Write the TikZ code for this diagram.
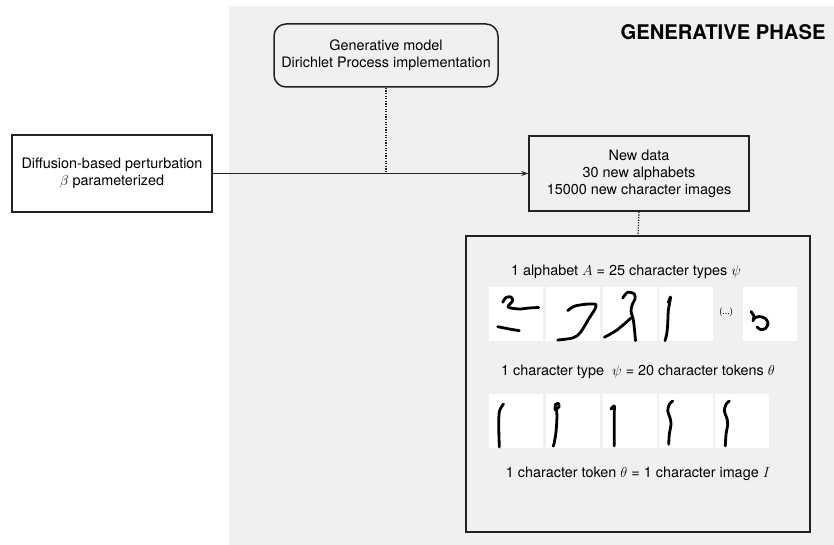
\documentclass[tikz,border=0pt]{standalone}
\usepackage{fontspec}
\setmainfont{TeX Gyre Heros}
\usetikzlibrary{arrows.meta}
\definecolor{phasegrey}{HTML}{F0F0F0}
\definecolor{linegrey}{HTML}{222222}
\begin{document}
\begin{tikzpicture}[x=1pt,y=-1pt,
  box/.style={draw=linegrey,line width=1.5pt,align=center,inner sep=0pt,font=\fontsize{14.4}{17}\selectfont},
  label/.style={align=center,inner sep=0pt,font=\fontsize{14.4}{17}\selectfont},
  ink/.style={line width=2.8pt,line cap=round,line join=round},
  link/.style={line width=1.3pt,draw=linegrey}]
\useasboundingbox (0,0) rectangle (834,545);
\fill[phasegrey] (229,6) rectangle (834,545);
\node[font=\fontsize{20.2}{22}\selectfont\bfseries,anchor=east] (phase) at (829,32) {GENERATIVE PHASE};

\node[box,rounded corners=12pt,minimum width=224pt,minimum height=63pt] (gen) at (386,55.5) {Generative model\\Dirichlet Process implementation};
\node[box,fill=white,minimum width=200pt,minimum height=77pt] (diff) at (112,173.5) {Diffusion-based perturbation\\$\beta$ parameterized};
\node[box,minimum width=220pt,minimum height=75pt] (new) at (639,173.5) {New data\\30 new alphabets\\15000 new character images};
\node[box,minimum width=344pt,minimum height=296pt] (set) at (638,384) {};
\coordinate (join) at (gen.south |- diff.east);

\draw[link,-{Stealth[length=7pt,width=5pt]}] (diff.east) -- (new.west);
\draw[link,dash pattern=on 1.3pt off 1.3pt] (gen.south) -- (join);
\draw[link,dash pattern=on 1.3pt off 1.3pt] (new.south) -- (set.north);

\node[label] (types) at (626,272) {1 alphabet $A$ = 25 character types $\psi$};
\node[label] (tokens) at (638,372) {1 character type \ $\psi$ = 20 character tokens $\theta$};
\node[label] (image) at (638,474) {1 character token $\theta$ = 1 character image $I$};
\node[font=\rmfamily\fontsize{9}{10}\selectfont,inner sep=0pt] (more) at (726,312) {(...)};

\foreach \x in {489,546,603,659,743} \fill[white] (\x,287) rectangle ++(54,54);
\foreach \x in {489,546,603,659,715} \fill[white] (\x,394) rectangle ++(54,54);

\draw[ink] plot[smooth] coordinates {(502.7,302.3) (506,297.5) (511,297) (512.5,301) (508,307) (519,309) (529,308) (538.7,307.5)};
\draw[ink] plot[smooth] coordinates {(497.7,326.7) (509.3,329) (519.3,330.7)};
\draw[ink] plot[smooth] coordinates {(567.7,310.7) (576,305.7) (596,304.7) (588,320) (580,333) (572.7,338) (557.7,340)};
\draw[ink] plot[smooth] coordinates {(622.7,298) (627.7,292.3) (634.3,294) (635,299) (632.5,304) (631,311) (633.5,321) (635.5,340.7)};
\draw[ink] plot[smooth] coordinates {(631,318) (617,330) (604.3,337.3)};
\draw[ink] plot[smooth] coordinates {(668.3,302.3) (670.5,297) (670,301) (668.3,310.7) (667.7,324) (666.7,334) (665,340.7)};
\draw[ink] plot[smooth] coordinates {(751,311.5) (754,316.5) (753,321)};
\draw[ink] plot[smooth] coordinates {(753,319) (759,316.5) (765.5,318.5) (768,323.5) (765.5,328.5) (760.5,329.5) (757,327)};

\draw[ink] plot[smooth] coordinates {(503.5,404) (499.5,411) (498.7,424.3) (499.3,447)};
\draw[ink] plot[smooth] coordinates {(555,410) (555.5,404.5) (558.5,403.5) (559,407) (556.5,409) (557,416) (556,432) (554,444) (553,446)};
\draw[ink] plot[smooth] coordinates {(611,409) (614.3,406) (614.3,412) (614.3,446)};
\draw[ink] plot[smooth] coordinates {(672.7,401) (669.3,404.3) (667.7,411) (670,417.7) (671,424.3) (669.3,434.3) (668.7,444.3)};
\draw[ink] plot[smooth] coordinates {(729.3,401) (726,404.3) (724.3,411) (726.7,417.7) (727.7,424.3) (726,434.3) (725.3,446)};
\end{tikzpicture}
\end{document}
